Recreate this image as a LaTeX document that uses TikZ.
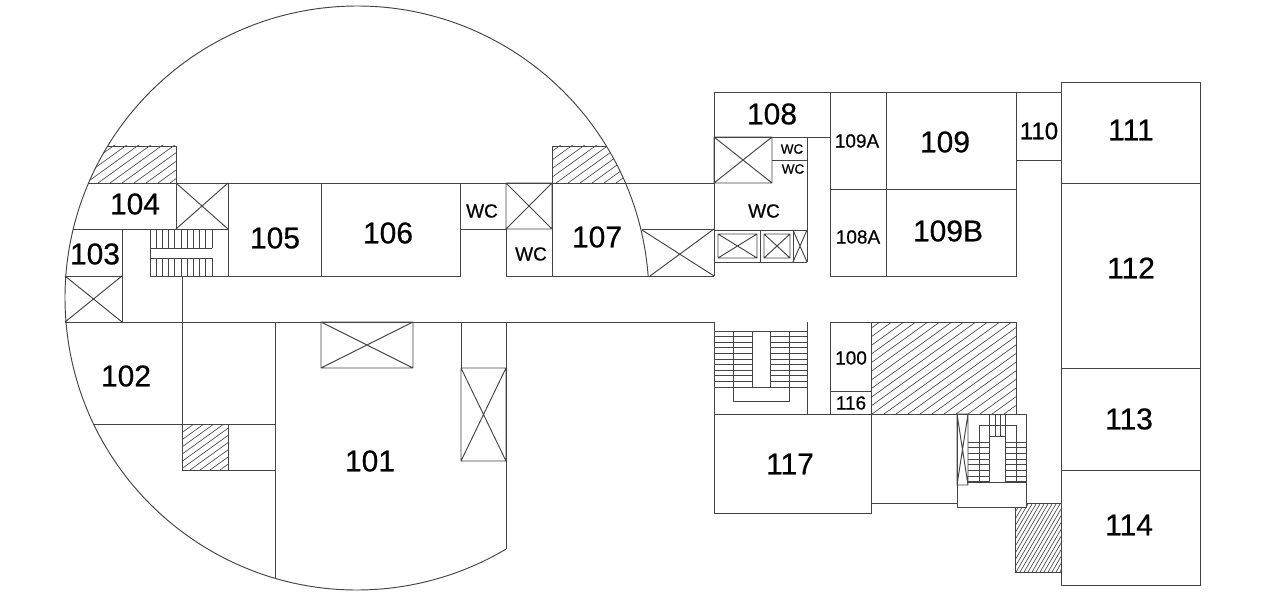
\documentclass[tikz,border=0pt]{standalone}
\usepackage{fontspec}
\setmainfont[FakeBold=0.55]{Liberation Sans}
\definecolor{wall}{HTML}{444444}
\tikzset{
  wallline/.style={draw=wall,line width=0.95pt},
  hatchline/.style={draw=wall,line width=0.65pt},
  lbl/.style={inner sep=0pt,text=black,font=\fontsize{30}{30}\selectfont},
  lblm/.style={lbl,font=\fontsize{24}{24}\selectfont},
  lbls/.style={lbl,font=\fontsize{19}{19}\selectfont},
  lblxs/.style={lbl,font=\fontsize{13.5}{13.5}\selectfont},
}
% X-box: corners
\newcommand{\xbox}[4]{\draw[wallline] (#1,#2) rectangle (#3,#4) (#1,#2) -- (#3,#4) (#1,#4) -- (#3,#2);}
\newcommand{\hatchlines}[5]{% x-start, x-next, x-end, y-base, rise per run of 100
  \foreach \hx in {#1,#2,...,#3} \draw[hatchline] (\hx,#4) -- ++(200,-2*#5);}
\begin{document}
\begin{tikzpicture}[x=1pt,y=-1pt]
\useasboundingbox (0,0) rectangle (1280,599);
\coordinate (c) at (357,298);
% hatches
\begin{scope}
  \clip (c) circle[radius=292pt];
  \clip (60,146) rectangle (176,183);
  \hatchlines{-10}{2}{176}{183}{72}
\end{scope}
\begin{scope}
  \clip (c) circle[radius=292pt];
  \clip (552,146) rectangle (640,183);
  \hatchlines{460}{472}{640}{183}{72}
\end{scope}
\begin{scope}
  \clip (182,424) rectangle (228,470);
  \hatchlines{80}{90}{230}{470}{72}
\end{scope}
\begin{scope}
  \clip (871,322) rectangle (1016,414);
  \hatchlines{740}{752}{1016}{414}{72}
\end{scope}
\begin{scope}
  \clip (1015,507) -- (1026,507) -- (1026,503) -- (1061,503) -- (1061,572) -- (1015,572) -- cycle;
  \hatchlines{940}{944}{1061}{572}{170}
\end{scope}
% circle
\draw[wallline] ([shift={(4.3:292pt)}]c) arc[start angle=4.3,end angle=300.7,radius=292pt];
% left wing
\draw[wallline] (89,183) -- (714,183);
\draw[wallline] (108,146) -- (176,146) -- (176,229);
\draw[wallline] (552,183) -- (552,146) -- (606,146);
\draw[wallline] (73,229) -- (228,229);
\draw[wallline] (122,229) -- (122,322);
\draw[wallline] (65,276) -- (122,276);
\draw[wallline] (65,276) -- (122,322) (65,322) -- (122,276);
\draw[wallline] (65,322) -- (714,322);
\draw[wallline] (150,276) -- (460,276) -- (460,183);
\draw[wallline] (176,183) -- (228,229) (176,229) -- (228,183);
\draw[wallline] (228,183) -- (228,276);
\draw[wallline] (321,183) -- (321,276);
% stairs 103/104
\draw[wallline] (150,229) -- (150,276);
\foreach \sx in {156.2,162.4,...,212.1} \draw[wallline] (\sx,229) -- (\sx,248) (\sx,258) -- (\sx,276);
\draw[wallline] (150,248) -- (212,248) (150,258) -- (212,258);
% lower left
\draw[wallline] (182,276) -- (182,470) -- (275,470);
\draw[wallline] (94,424) -- (275,424);
\draw[wallline] (182,424) rectangle (228,470);
\draw[wallline] (275,322) -- (275,578);
\xbox{321}{322}{413}{368}
\draw[wallline] (461,322) -- (461,368);
\xbox{461}{368}{506}{461}
\draw[wallline] (506,322) -- (506,549);
% WC / 107
\draw[wallline] (460,229) -- (506,229);
\xbox{506}{183}{552}{229}
\draw[wallline] (506,229) -- (506,276) -- (714,276);
\draw[wallline] (552,183) -- (552,276);
\draw[wallline] (642,229) -- (714,229);
\draw[wallline] (642,230) -- (714,276) (650,276) -- (714,229);
% 108 block
\draw[wallline] (714,92) -- (714,276);
\draw[wallline] (714,92) -- (1061,92);
\draw[wallline] (714,137) -- (830,137);
\xbox{714}{137}{772}{183}
\draw[wallline] (772,160) -- (807,160) (807,137) -- (807,262);
\draw[wallline] (714,230) -- (807,230) (714,262) -- (807,262);
\draw[wallline] (760,230) -- (760,262) (793,230) -- (793,262);
\xbox{718}{234}{757}{258}
\xbox{764}{234}{790}{258}
\draw[wallline] (793,230) -- (807,262) (793,262) -- (807,230);
% 108A / 109
\draw[wallline] (830,92) rectangle (886,276);
\draw[wallline] (830,189) -- (1016,189);
\draw[wallline] (886,276) -- (1016,276) -- (1016,92);
\draw[wallline] (1016,160) -- (1061,160);
% right block
\draw[wallline] (1061,82) rectangle (1200,585);
\draw[wallline] (1061,183) -- (1200,183) (1061,368) -- (1200,368) (1061,470) -- (1200,470);
% lower stair
\draw[wallline] (714,322) -- (714,513) -- (872,513);
\draw[wallline] (807,322) -- (807,414);
\draw[wallline] (714,331) -- (807,331) (714,387) -- (807,387);
\foreach \ty in {336.6,342.2,...,387.1} \draw[wallline] (714,\ty) -- (752,\ty) (770,\ty) -- (807,\ty);
\draw[wallline] (752,331) -- (752,387) (770,331) -- (770,387);
\draw[wallline] (733,331) -- (733,401) -- (789,401) -- (789,331);
\draw[wallline] (714,414) -- (1026,414);
\draw[wallline] (830,322) -- (1016,322) -- (1016,414);
\draw[wallline] (830,322) -- (830,414);
\draw[wallline] (830,391) -- (871,391);
\draw[wallline] (871,322) -- (871,513);
\draw[wallline] (871,503) -- (957,503);
% stair box
\draw[wallline] (957,414) rectangle (1026,507);
\draw[wallline] (957,414) rectangle (968,485) (957,414) -- (968,485) (957,485) -- (968,414);
\draw[wallline] (968,482) -- (1026,482);
\foreach \ty in {442,447.7,...,482.1} \draw[wallline] (968,\ty) -- (989,\ty) (1005,\ty) -- (1026,\ty);
\draw[wallline] (979,482) -- (979,425) -- (1016,425) -- (1016,482);
\draw[wallline] (989,414) -- (989,482) (1005,414) -- (1005,482);
\draw[wallline] (989,436) -- (1005,436);
\draw[wallline] (995,414) -- (995,436) (1000,414) -- (1000,436);
\draw[wallline] (1026,503) -- (1061,503);
\draw[wallline] (1015,507) -- (1015,572) -- (1061,572);
% labels
\node[lbl] (r101) at (370,461) {101};
\node[lbl] (r102) at (126,376) {102};
\node[lbl] (r103) at (95,254) {103};
\node[lbl] (r104) at (135,204) {104};
\node[lbl] (r105) at (275,238) {105};
\node[lbl] (r106) at (388,233) {106};
\node[lbl] (r107) at (597,237) {107};
\node[lbl] (r108) at (772,114) {108};
\node[lbl] (r109) at (945,142) {109};
\node[lbl] (r109b) at (948,231) {109B};
\node[lbls] (r109a) at (857,141) {109A};
\node[lbls] (r108a) at (858,237) {108A};
\node[lblm] (r110) at (1039,131) {110};
\node[lbl] (r111) at (1131,130) {111};
\node[lbl] (r112) at (1131,268) {112};
\node[lbl] (r113) at (1129,419) {113};
\node[lbl] (r114) at (1129,525) {114};
\node[lbl] (r117) at (790,464) {117};
\node[lbls] (r100) at (851,358) {100};
\node[lbls] (r116) at (851,403) {116};
\node[lbls] (w1) at (482,211) {WC};
\node[lbls] (w2) at (531,254) {WC};
\node[lbls] (w3) at (764,211) {WC};
\node[lblxs] (w4) at (792,149) {WC};
\node[lblxs] (w5) at (793,169) {WC};
\end{tikzpicture}
\end{document}
